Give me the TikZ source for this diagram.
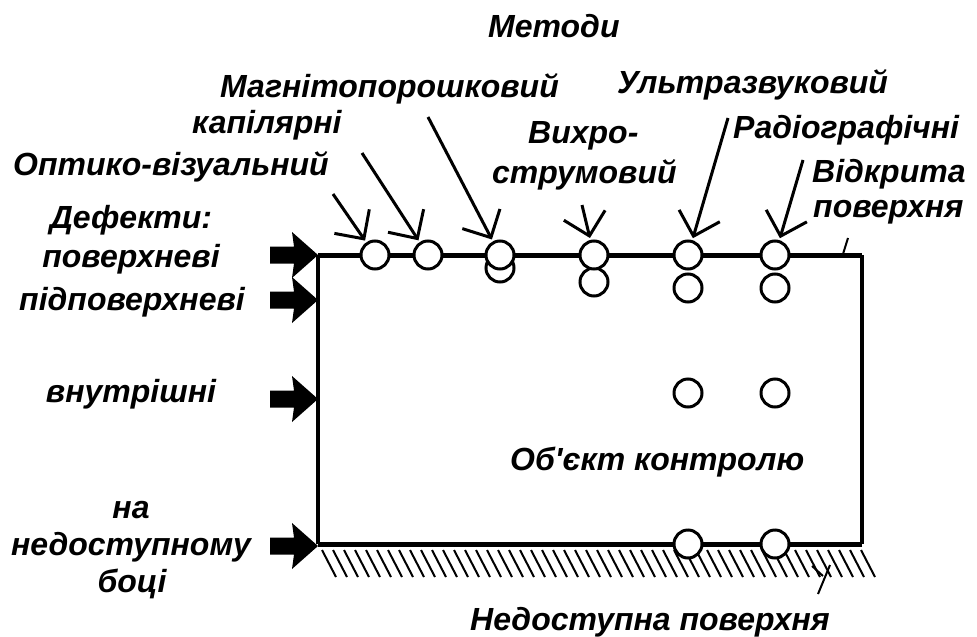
\documentclass[tikz,border=0pt]{standalone}
\usepackage{fontspec}
\setmainfont{Liberation Sans}[Ligatures=TeXOff]
\usetikzlibrary{arrows.meta}
\newcommand\DefArrow[1]{\fill (#1) ++(-48,-8.5) -- ++(24,0) -- ++(-2,-14.5) -- ++(26,23) -- ++(-26,23) -- ++(2,-14.5) -- ++(-24,0) -- cycle;}
\begin{document}
\begin{tikzpicture}[x=1pt,y=-1pt,
  lbl/.style={anchor=base west,inner sep=0pt,font=\fontsize{32}{38}\selectfont\bfseries\itshape},
  lblc/.style={anchor=base,inner sep=0pt,font=\fontsize{32}{38}\selectfont\bfseries\itshape},
  ring/.style={circle,draw,line width=3pt,fill=white,minimum size=28pt,inner sep=0pt},
  meth/.style={line width=3pt,shorten >=2pt,-{Straight Barb[angle=90:30pt,line width=3pt]}},
  hatch/.style={line width=2pt}]
\useasboundingbox (0,0) rectangle (977,637);
% object outline
\coordinate (TL) at (318,255);
\coordinate (TR) at (862,255);
\coordinate (BR) at (862,544);
\coordinate (BL) at (318,544);
\draw[line width=5pt] (TL) -- (TR);
\draw[line width=4pt] (TR) -- (BR);
\draw[line width=5pt] (BR) -- (BL);
\draw[line width=3.5pt] (BL) -- (TL);
% hatching
\foreach \x in {322,333,...,870} \draw[hatch] (\x,550) -- ++(14,27);
% circles
\node[ring] (m3b) at (500,268) {};
\node[ring] (m1) at (375,255) {};
\node[ring] (m2) at (428,255) {};
\node[ring] (m3) at (500,255) {};
\node[ring] (m4b) at (594,282) {};
\node[ring] (m4) at (594,255) {};
\node[ring] (m5b) at (688,288) {};
\node[ring] (m5) at (688,255) {};
\node[ring] (m6b) at (775,288) {};
\node[ring] (m6) at (775,255) {};
\node[ring] (i5) at (688,393) {};
\node[ring] (i6) at (775,393) {};
\node[ring] (b5) at (688,544) {};
\node[ring] (b6) at (775,544) {};
% method arrows
\coordinate (s1) at (333,194);
\coordinate (s2) at (362,153);
\coordinate (s3) at (428,117);
\coordinate (s4) at (582,205);
\coordinate (s5) at (728,118);
\coordinate (s6) at (803,160);
\draw[meth] (s1) -- (m1);
\draw[meth] (s2) -- (m2);
\draw[meth] (s3) -- (m3);
\draw[meth] (s4) -- (m4);
\draw[meth] (s5) -- (m5);
\draw[meth] (s6) -- (m6);
% defect arrows
\coordinate (d1) at (318,255);
\coordinate (d2) at (318,300);
\coordinate (d3) at (318,399);
\coordinate (d4) at (318,546);
\DefArrow{d1}
\DefArrow{d2}
\DefArrow{d3}
\DefArrow{d4}
% leader ticks
\coordinate (o1) at (843,254);
\coordinate (o2) at (848,238);
\draw[line width=2pt] (o1) -- (o2);
\coordinate (u1) at (818,594);
\coordinate (u2) at (830,565);
\coordinate (u3) at (812,566);
\coordinate (u4) at (823,576);
\draw[line width=2pt] (u1) -- (u2);
\draw[line width=2pt] (u3) -- (u4);
% labels
\node[lbl] (tMet) at (488,37) {Методи};
\node[lbl] (tMag) at (220,97) {Магнітопорошковий};
\node[lbl] (tKap) at (192,133) {капілярні};
\node[lbl] (tOpt) at (13,175) {Оптико-візуальний};
\node[lbl] (tVy1) at (528,143) {Вихро-};
\node[lbl] (tVy2) at (492,183) {струмовий};
\node[lbl] (tUlt) at (617,93) {Ультразвуковий};
\node[lbl] (tRad) at (733,138) {Радіографічні};
\node[lbl] (tVid1) at (812,182) {Відкрита};
\node[lbl] (tVid2) at (813,217) {поверхня};
\node[lblc] (tDef) at (131,228) {Дефекти:};
\node[lblc] (tPov) at (131,267) {поверхневі};
\node[lblc] (tPid) at (132,310) {підповерхневі};
\node[lblc] (tVnu) at (131,402) {внутрішні};
\node[lblc] (tNa1) at (131,518) {на};
\node[lblc] (tNa2) at (131,555) {недоступному};
\node[lblc] (tNa3) at (132,592) {боці};
\node[lbl] (tObj) at (510,470) {Об'єкт контролю};
\node[lbl] (tNed) at (470,630) {Недоступна поверхня};
\end{tikzpicture}
\end{document}
